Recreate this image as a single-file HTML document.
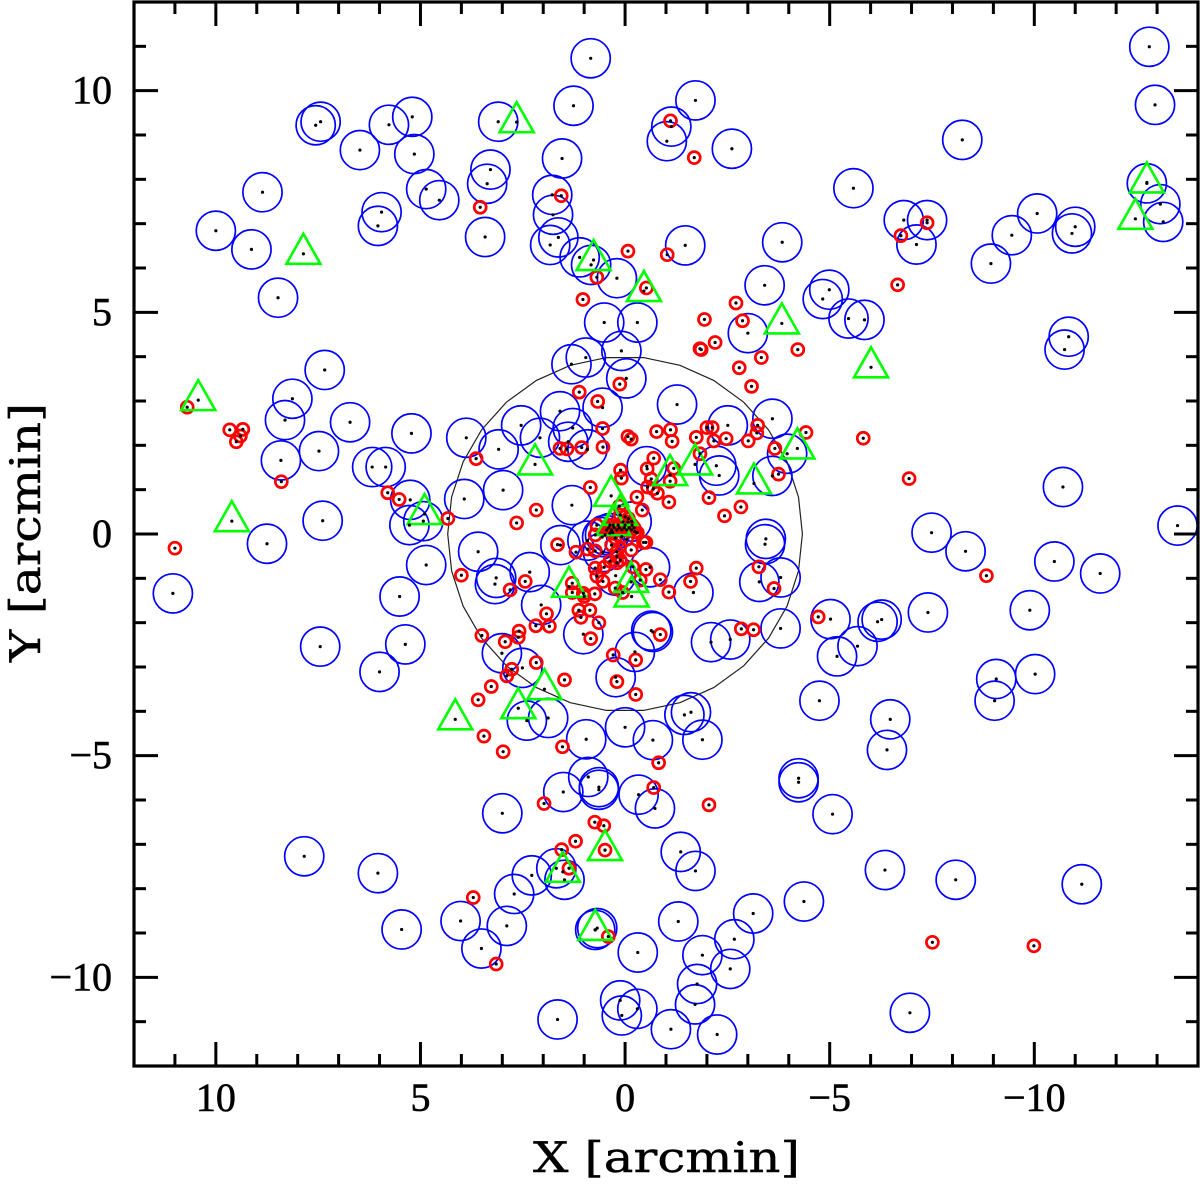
<!DOCTYPE html>
<html>
<head>
<meta charset="utf-8">
<title>Source positions chart</title>
<style>
html,body{margin:0;padding:0;background:#fff;}
svg{display:block;}
text{fill:#000;}
</style>
</head>
<body>
<svg id="chart" xmlns="http://www.w3.org/2000/svg" width="1200" height="1184" viewBox="0 0 1200 1184">
  <rect x="0" y="0" width="1200" height="1184" fill="#fff"/>
  <g id="ring"></g>
  <g id="blue"></g>
  <g id="red"></g>
  <g id="green"></g>
  <g id="dots"></g>
  <g id="axes"></g>
  <text x="533" y="1172" font-family="'DejaVu Serif','Liberation Serif',serif" font-size="42" stroke="#000" stroke-width="0.4" textLength="267" lengthAdjust="spacingAndGlyphs">X [arcmin]</text>
  <text transform="translate(40,662) rotate(-90)" x="0" y="0" font-family="'DejaVu Serif','Liberation Serif',serif" font-size="42" stroke="#000" stroke-width="0.4" textLength="259" lengthAdjust="spacingAndGlyphs">Y [arcmin]</text>
</svg>
<script>
const xTickValues = [10, 5, 0, -5, -10];
const xTickLabels = ["10", "5", "0", "\u22125", "\u221210"];
const yTickValues = [10, 5, 0, -5, -10];
const yTickLabels = ["10", "5", "0", "\u22125", "\u221210"];
const ringRadius = 4;

const blueX = [
7.56,7.44,6.48,5.77,8.86,10.00,9.13,8.48,5.95,6.04,
7.34,8.13,5.20,5.15,4.86,4.54,3.29,3.37,3.42,3.10,
1.26,0.84,1.54,1.78,1.76,1.63,1.83,1.11,0.83,0.20,
0.51,-0.30,0.96,1.31,0.09,-0.03,-1.47,-3.84,-3.41,-3.00,
-1.72,-1.13,-1.02,-2.61,-12.81,-12.95,-8.24,-5.58,-6.81,-7.38,
-7.12,-10.07,-9.45,-8.94,-11.00,-10.92,-12.75,-13.08,-13.15,-4.99,
-4.83,-5.46,-5.85,-10.84,-10.74,8.31,8.41,7.48,6.72,6.18,
5.85,5.22,3.88,3.09,5.25,4.93,5.27,3.93,2.98,7.39,
8.75,11.05,4.86,5.51,3.59,3.15,3.18,7.45,5.37,6.00,
3.01,-1.27,0.55,1.59,2.54,2.08,1.28,1.39,0.92,1.30,
-2.51,-3.60,-0.53,-2.23,-2.30,-3.96,-3.60,-3.44,-3.42,1.58,
-0.16,0.92,0.56,0.49,0.37,0.54,-0.61,0.23,2.33,2.05,
1.02,-1.67,-3.28,-3.80,-3.80,-2.57,-2.10,-0.64,-0.68,-0.24,
0.23,2.51,-1.45,-1.61,-10.70,-13.50,-7.49,-8.32,-10.49,-11.61,
-9.89,-7.40,-5.02,-6.17,-6.27,-5.68,-5.18,-9.07,-9.03,-10.02,
-4.75,-6.48,-6.40,2.40,1.88,0.95,0,-0.68,-1.89,0.90,
1.51,0.64,0.64,-0.33,-0.73,3.00,-4.24,-4.24,-1.36,-1.72,
1.68,2.28,1.48,2.71,2.89,3.51,0.73,0.68,-0.31,-1.30,
-3.13,-2.67,-1.89,-2.57,-1.76,-1.71,0.12,-0.30,0.08,1.65,
-1.12,-2.25,-4.37,7.84,6.04,5.46,4.02,-5.07,-6.35,-8.08,
-11.16,-6.96
];
const blueY = [
9.22,9.30,8.66,9.23,7.71,6.84,6.42,5.33,7.26,6.95,
3.70,3.05,9.41,8.57,7.78,7.53,8.22,7.90,6.70,9.30,
9.66,10.73,8.47,7.65,7.20,6.69,6.52,6.24,6.07,5.77,
4.77,4.77,3.98,3.83,4.13,3.51,6.51,6.58,5.61,4.53,
9.78,9.19,8.86,8.69,10.99,9.68,8.89,7.80,7.08,7.08,
6.53,7.23,6.74,6.10,6.93,6.78,7.91,7.44,7.04,5.51,
5.30,4.86,4.83,4.45,4.16,2.57,1.66,1.87,2.52,1.51,
1.51,2.27,2.17,1.91,0.77,0.29,0.20,0.79,0.99,0.30,
-0.22,-1.34,-0.70,-1.41,-0.40,-0.99,-1.13,-2.54,-2.49,-3.11,
-2.69,2.92,2.85,2.77,2.45,2.17,2.39,2.08,1.91,0.65,
2.45,2.60,1.53,1.54,1.32,1.81,1.31,-0.11,-0.23,-0.25,
0.28,-0.15,-0.07,-0.02,0.02,-0.41,-0.75,-0.94,-0.86,-1.60,
-2.26,-1.32,-1.08,-0.98,-2.13,-2.38,-2.44,-2.18,-2.21,-2.66,
-3.23,-3.02,-4.08,-4.02,1.06,0.19,0.03,-0.39,-0.62,-0.89,
-1.72,-1.77,-1.92,-1.98,-1.93,-2.53,-2.76,-3.27,-3.76,-3.16,
-3.76,-4.18,-4.87,-4.21,-4.15,-4.63,-4.36,-4.65,-4.64,-5.48,
-5.82,-5.71,-5.77,-5.88,-6.19,-6.30,-5.51,-5.60,-7.17,-7.60,
-7.54,-7.70,-7.80,-8.12,-8.84,-9.35,-8.93,-8.89,-9.44,-8.74,
-8.56,-9.14,-9.50,-9.81,-10.15,-10.61,-10.52,-10.71,-10.86,-10.95,
-11.17,-11.29,-8.29,-7.27,-7.65,-8.92,-8.73,-6.32,-7.58,-7.80,
-7.90,-10.80
];

const redX = [
-1.11,-1.69,3.54,1.56,-0.07,-1.03,0.69,-0.52,1.03,-2.71,
-2.87,-1.94,-2.20,-1.83,-1.86,-4.22,-3.33,-2.79,-3.09,0.13,
1.12,0.67,-6.74,-7.38,-6.66,-4.42,-5.82,-6.94,-8.83,-4.72,
10.70,9.66,9.34,9.40,9.50,8.40,11.00,5.80,5.52,4.33,
3.64,4.00,3.50,3.27,3.59,3.45,2.98,0.55,0.54,1.06,
1.42,1.59,-0.07,-0.15,-0.77,-1.11,-1.15,-1.74,-2.00,-2.13,
-2.17,-2.47,-3.01,-3.24,-3.22,-3.66,-1.83,-3.75,-0.70,0.11,
0.09,-0.54,-1.19,-0.64,-1.10,-0.55,-0.69,-0.79,-1.07,-0.29,
-0.42,0.85,-2.05,-2.83,-2.43,2.17,2.65,0.14,1.65,1.20,
0,-0.08,0.12,0.69,0.73,0.92,0.73,0.33,-0.24,-0.45,
-0.51,-0.15,0.20,0.37,0.20,0.20,0.12,0.73,0.51,0.69,
0.54,0.24,0.06,-0.19,-0.51,-0.37,-0.86,-1.07,-1.74,-1.60,
0.45,0.33,0.20,0.08,-0.04,-0.16,0.37,0.17,0,-0.17,
0.05,-0.07,0.08,-0.04,0.24,2.44,2.81,1.29,1.29,1.02,
1.00,0.74,1.13,0.86,1.08,0.64,1.92,2.18,1.85,2.59,
2.61,2.93,0.84,2.17,2.77,2.89,1.48,0.29,-0.26,0.20,
-0.26,-0.86,-2.84,-3.14,-3.27,-3.64,1.53,-0.82,-0.70,1.98,
-2.05,0.74,0.52,1.21,0.49,1.55,1.37,0.41,3.15,3.71,
-7.51,-9.99,0.40,0.27,0.14,0.02,-0.10,-0.22,0.30,-0.30
];
const redY = [
9.32,8.49,7.37,7.63,6.38,6.30,5.79,5.55,5.29,5.21,
4.81,4.84,4.32,4.18,4.16,4.16,3.98,3.75,3.33,3.38,
3.20,2.99,6.73,7.02,5.62,2.29,2.16,1.25,-0.94,-1.87,
2.86,2.35,2.36,2.21,2.08,1.18,-0.32,0.93,0.78,0.35,
1.70,-0.93,-2.29,-3.44,-3.74,-4.56,-4.91,2.38,1.96,1.95,
1.92,1.93,2.20,2.14,2.31,2.35,2.09,2.18,2.40,2.40,
2.10,2.15,2.10,2.45,2.28,1.93,1.81,1.35,1.71,1.44,
1.26,1.47,1.48,1.24,1.19,1.06,1.02,0.92,0.72,0.83,
0.54,1.05,0.82,0.61,0.41,0.54,0.25,0.63,-0.24,-0.41,
0.39,0.35,0.43,0.20,-0.02,-0.34,-0.38,-0.25,0.05,-0.19,
-0.19,-0.36,-0.40,-0.61,-0.51,-0.65,-0.59,-0.77,-0.75,-0.95,
-1.07,-1.22,-1.32,-0.74,-0.80,-1.04,-1.03,-1.31,-0.77,-1.07,
0.09,0.09,0.09,0.09,0.09,0.09,0.20,0.20,0.20,0.20,
0.27,0.27,-0.06,-0.12,-0.09,-1.07,-1.26,-1.11,-1.32,-1.34,
-1.41,-1.35,-1.72,-1.72,-1.88,-2.00,-1.80,-2.07,-2.08,-2.19,
-2.33,-2.43,-2.36,-2.90,-3.05,-3.20,-3.29,-2.73,-2.84,-3.33,
-3.62,-2.27,-2.14,-2.16,-0.74,-1.23,-4.80,-5.16,-5.72,-6.08,
-6.11,-6.50,-6.58,-6.93,-7.13,-7.12,-7.54,-9.08,-9.70,-8.20,
-9.21,-9.29,0.14,0.14,0.14,0.14,0.14,0.14,0.03,0.03
];

const greenX = [
7.86,10.43,2.65,0.77,-0.46,-3.83,-6.01,-12.75,-12.47,9.61,
4.90,4.15,2.20,0.34,-1.10,-1.71,-3.15,-4.21,1.37,0.12,
0.29,-0.15,-0.16,1.97,2.61,0.49,1.52,0.73
];
const greenY = [
6.32,3.02,9.29,6.18,5.48,4.75,3.76,7.93,7.11,0.29,
0.45,-4.18,1.57,0.86,1.33,1.57,1.14,1.93,-1.19,0.43,
0.20,-1.08,-1.41,-3.50,-3.93,-7.13,-7.62,-8.93
];

const SVGNS = "http://www.w3.org/2000/svg";
const plotLeft = 134, plotRight = 1198, plotTop = 2, plotBottom = 1066;
const xMax = 12, xMin = -14, yMax = 12, yMin = -12;
function xScale(v){ return plotLeft + (xMax - v) * (plotRight - plotLeft) / (xMax - xMin); }
function yScale(v){ return plotTop + (yMax - v) * (plotBottom - plotTop) / (yMax - yMin); }
function make(tag, attrs, parent){
  const el = document.createElementNS(SVGNS, tag);
  for (const k in attrs) el.setAttribute(k, attrs[k]);
  parent.appendChild(el);
  return el;
}

/* reference ring */
const ringGroup = document.getElementById("ring");
const ringPts = [];
const ringPx = ringRadius * (plotBottom - plotTop) / (yMax - yMin);
for (let i = 0; i < 30; i++) {
  const a = (6 + 12 * i) * Math.PI / 180;
  ringPts.push((xScale(0) + ringPx * Math.sin(a)).toFixed(1) + "," + (yScale(0) - ringPx * Math.cos(a)).toFixed(1));
}
const ringEl = make("polygon", {points: ringPts.join(" "), fill: "none", stroke: "#222", "stroke-width": 1.2}, ringGroup);



/* series */
const blueGroup = document.getElementById("blue");
const redGroup = document.getElementById("red");
const greenGroup = document.getElementById("green");
const dotGroup = document.getElementById("dots");

function addDot(x, y){
  const d = make("circle", {cx: xScale(x), cy: yScale(y), r: 1.6, fill: "#000"}, dotGroup);
  
  
}
blueX.forEach(function(x, i){
  const c = make("circle", {cx: xScale(x), cy: yScale(blueY[i]), r: 19.6, fill: "none", stroke: "#0000ff", "stroke-width": 1.7}, blueGroup);
  
  
  addDot(x, blueY[i]);
});
redX.forEach(function(x, i){
  const c = make("circle", {cx: xScale(x), cy: yScale(redY[i]), r: 6, fill: "none", stroke: "#ff0000", "stroke-width": 2.7}, redGroup);
  
  
  addDot(x, redY[i]);
});
greenX.forEach(function(x, i){
  const px = xScale(x), py = yScale(greenY[i]);
  const pts = px + "," + (py - 20) + " " + (px + 17) + "," + (py + 10) + " " + (px - 17) + "," + (py + 10);
  const t = make("polygon", {points: pts, fill: "none", stroke: "#00ff00", "stroke-width": 2.6}, greenGroup);
  
  
  addDot(x, greenY[i]);
});

/* axes */
const axesGroup = document.getElementById("axes");
const frame = make("rect", {x: plotLeft, y: plotTop, width: plotRight - plotLeft, height: plotBottom - plotTop, fill: "none", stroke: "#000", "stroke-width": 3.2}, axesGroup);



function tickLine(x1, y1, x2, y2){
  const l = make("line", {x1: x1, y1: y1, x2: x2, y2: y2, stroke: "#000", "stroke-width": 3}, axesGroup);
  
  
}
for (let v = xMax - 1; v > xMin; v--) {
  const len = v % 5 === 0 ? 24 : 12;
  tickLine(xScale(v), plotBottom, xScale(v), plotBottom - len);
  tickLine(xScale(v), plotTop, xScale(v), plotTop + len);
}
for (let v = yMax - 1; v > yMin; v--) {
  const len = v % 5 === 0 ? 24 : 12;
  tickLine(plotLeft, yScale(v), plotLeft + len, yScale(v));
  tickLine(plotRight, yScale(v), plotRight - len, yScale(v));
}
const labelFont = "'Liberation Serif', serif";
xTickValues.forEach(function(v, i){
  const t = make("text", {x: xScale(v), y: 1111, "text-anchor": "middle", "font-family": labelFont, "font-size": 40, stroke: "#000", "stroke-width": 0.6}, axesGroup);
  
  
  t.textContent = xTickLabels[i];
});
yTickValues.forEach(function(v, i){
  const t = make("text", {x: 112, y: yScale(v) + 13, "text-anchor": "end", "font-family": labelFont, "font-size": 40, stroke: "#000", "stroke-width": 0.6}, axesGroup);
  
  
  t.textContent = yTickLabels[i];
});
</script>
</body>
</html>
